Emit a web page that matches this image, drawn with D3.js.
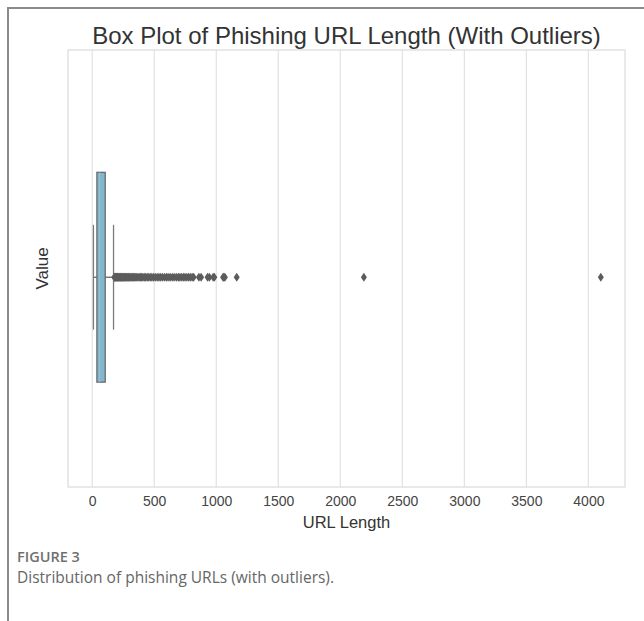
<!DOCTYPE html>
<html>
<head>
<meta charset="utf-8">
<script src="https://cdn.jsdelivr.net/npm/d3@7/dist/d3.min.js"></script>
<style>
body { margin: 0; background: #fff; }
</style>
</head>
<body>
<div id="chart-area"></div>
<script>

let width = 644,
height = 621;

// values
let xTicks = [0, 500, 1000, 1500, 2000, 2500, 3000, 3500, 4000];
let whiskers = [10, 172];          // lower / upper whisker
let quartiles = [38, 60, 105];     // q1, median, q3
let outliers = [178, 182, 186, 190, 194, 198, 203, 207, 212, 216, 221, 226, 231, 236,
	242, 247, 253, 259, 264, 270, 277, 283, 290, 296, 303, 311, 318, 326, 334, 342,
	351, 360, 369, 378, 388, 398, 409, 420, 431, 443, 455, 468, 481, 495, 509, 524,
	538, 552, 567, 583, 598, 612, 628, 645, 661, 678, 694, 707, 722, 736, 748, 763,
	777, 791, 806, 818, 860, 878, 930, 945, 975, 985, 1055, 1062, 1070, 1165, 2190, 4100];

let margin = {top: 50, right: 19, bottom: 134, left: 68};
let plotW = width - margin.left - margin.right,
plotH = height - margin.top - margin.bottom;

let svg = d3.select("#chart-area").append("svg")
.attr("width", width)
.attr("height", height)
.style("font-family", "'Liberation Sans', Arial, sans-serif");

// outer figure frame (left + top rule)
svg.append("path")
	.attr("d", "M8,621V8H644")
	.attr("fill", "none")
	.attr("stroke", "#8a8a8a")
	.attr("stroke-width", 2);

let x = d3.scaleLinear()
	.domain([-195, 4295])
	.range([0, plotW]);

// categorical position: box sits at 0, width 0.48
let y = d3.scaleLinear()
	.domain([-0.52, 0.48])
	.range([0, plotH]);
let boxWidth = 0.48;

let g = svg.append("g")
	.attr("transform", "translate(" + margin.left + "," + margin.top + ")");

// grid
g.selectAll(".grid")
	.data(xTicks)
	.enter().append("line")
	.attr("class", "grid")
	.attr("x1", d => x(d)).attr("x2", d => x(d))
	.attr("y1", 0).attr("y2", plotH)
	.attr("stroke", "#e2e2e2")
	.attr("stroke-width", 1.2);

g.append("rect")
	.attr("width", plotW)
	.attr("height", plotH)
	.attr("fill", "none")
	.attr("stroke", "#dadada")
	.attr("stroke-width", 1.2);

// x axis
let xAxis = g.append("g")
	.attr("transform", "translate(0," + plotH + ")")
	.call(d3.axisBottom(x).tickValues(xTicks).tickFormat(d3.format("d")).tickSize(0).tickPadding(9));
xAxis.select(".domain").remove();
xAxis.selectAll("text")
	.style("font-family", "'Liberation Sans', Arial, sans-serif")
	.style("font-size", "14px")
	.attr("fill", "#444");

let cy = y(0);
let y0 = y(-boxWidth / 2), y1 = y(boxWidth / 2);

// whiskers
g.append("line")
	.attr("x1", x(whiskers[0])).attr("x2", x(quartiles[0]))
	.attr("y1", cy).attr("y2", cy)
	.attr("stroke", "#666").attr("stroke-width", 1.3);
g.append("line")
	.attr("x1", x(quartiles[2])).attr("x2", x(whiskers[1]))
	.attr("y1", cy).attr("y2", cy)
	.attr("stroke", "#666").attr("stroke-width", 1.3);
g.selectAll(".cap")
	.data(whiskers)
	.enter().append("line")
	.attr("class", "cap")
	.attr("x1", d => x(d)).attr("x2", d => x(d))
	.attr("y1", y(-boxWidth / 4)).attr("y2", y(boxWidth / 4))
	.attr("stroke", "#7a7a7a").attr("stroke-width", 1.3);

// box
g.append("rect")
	.attr("x", x(quartiles[0]))
	.attr("y", y0)
	.attr("width", x(quartiles[2]) - x(quartiles[0]))
	.attr("height", y1 - y0)
	.attr("fill", "#84b6cd")
	.attr("stroke", "#6a6a6a")
	.attr("stroke-width", 1.3);
g.append("line")
	.attr("x1", x(quartiles[1])).attr("x2", x(quartiles[1]))
	.attr("y1", y0).attr("y2", y1)
	.attr("stroke", "#8fc0d6").attr("stroke-width", 1);

// outliers as thin diamonds
g.selectAll(".flier")
	.data(outliers)
	.enter().append("path")
	.attr("class", "flier")
	.attr("d", "M0,-4.5L3,0L0,4.5L-3,0Z")
	.attr("transform", d => "translate(" + x(d) + "," + cy + ")")
	.attr("fill", "#5c5c5c");

// titles
svg.append("text")
	.attr("x", margin.left + plotW / 2)
	.attr("y", 44)
	.attr("text-anchor", "middle")
	.style("font-size", "24px")
	.attr("fill", "#333")
	.text("Box Plot of Phishing URL Length (With Outliers)");

svg.append("text")
	.attr("x", margin.left + plotW / 2)
	.attr("y", 528)
	.attr("text-anchor", "middle")
	.style("font-size", "16.5px")
	.attr("fill", "#333")
	.text("URL Length");

svg.append("text")
	.attr("transform", "translate(" + (margin.left - 20) + "," + (margin.top + plotH / 2) + ") rotate(-90)")
	.attr("text-anchor", "middle")
	.style("font-size", "17px")
	.attr("fill", "#333")
	.text("Value");

// caption
svg.append("text")
	.attr("x", 17)
	.attr("y", 562)
	.style("font-family", "'Open Sans', sans-serif")
	.style("font-size", "14.5px")
	.style("font-weight", 600)
	.attr("fill", "#707070")
	.text("FIGURE 3");

svg.append("text")
	.attr("x", 17)
	.attr("y", 583)
	.style("font-family", "'Open Sans', sans-serif")
	.style("font-size", "15.5px")
	.attr("fill", "#666")
	.text("Distribution of phishing URLs (with outliers).");

</script>
</body>
</html>
